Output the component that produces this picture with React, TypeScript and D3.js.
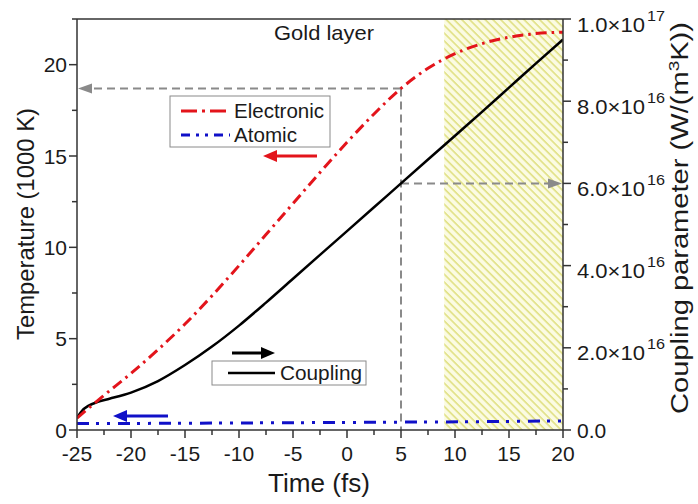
import React from "react";
import * as d3 from "d3";

// ---- data ----
const electronicTime = [-25, -22.5, -20, -17.5, -15, -12.5, -10, -7.5, -5, -2.5, 0, 2.5, 5, 7.5, 10, 12.5, 15, 17.5, 20];
const electronicTemp = [0.65, 1.9, 3.1, 4.4, 5.8, 7.35, 9.0, 10.7, 12.4, 14.1, 15.75, 17.3, 18.7, 19.8, 20.6, 21.15, 21.5, 21.7, 21.78];

const atomicTime = [-25, -15, -5, 5, 15, 20];
const atomicTemp = [0.35, 0.37, 0.4, 0.43, 0.47, 0.5];

const couplingTime = [-25, -24.5, -24, -23, -22, -20, -17.5, -15, -12.5, -10, -7.5, -5, -2.5, 0, 2.5, 5, 7.5, 10, 12.5, 15, 17.5, 20];
// in units of 1e16 W/(m^3 K)
const couplingValue = [0.3, 0.48, 0.58, 0.69, 0.76, 0.91, 1.19, 1.58, 2.03, 2.54, 3.1, 3.68, 4.26, 4.84, 5.42, 6.0, 6.58, 7.16, 7.74, 8.33, 8.92, 9.5];
const COUPLING_UNIT = 1e16;

const xTicks = [-25, -20, -15, -10, -5, 0, 5, 10, 15, 20];
const yLeftTicks = [0, 5, 10, 15, 20];
const yRightTicks = [0, 2e16, 4e16, 6e16, 8e16, 1e17];
const yRightMantissa = ["0.0", "2.0×10", "4.0×10", "6.0×10", "8.0×10", "1.0×10"];
const yRightExponent = ["", "16", "16", "16", "16", "17"];
const hatchStart = 9;
const markerTime = 5;
const markerTemp = 18.7;
const markerCoupling = 6e16;

const W = 698, H = 504;
const L = 77, R = 563, T = 19, B = 430;
const FONT = "'Liberation Sans', Arial, Helvetica, sans-serif";
const TXT = "#1a1a1a";

export default function App() {
  const x = d3.scaleLinear().domain([-25, 20]).range([L, R]);
  const yL = d3.scaleLinear().domain([0, 22.5]).range([B, T]);
  const yR = d3.scaleLinear().domain([0, 1e17]).range([B, T]);

  const lineL = d3.line<[number, number]>().x(d => x(d[0])).y(d => yL(d[1])).curve(d3.curveMonotoneX);
  const lineR = d3.line<[number, number]>().x(d => x(d[0])).y(d => yR(d[1])).curve(d3.curveMonotoneX);

  const elec = lineL(electronicTime.map((t, i) => [t, electronicTemp[i]]))!;
  const atom = lineL(atomicTime.map((t, i) => [t, atomicTemp[i]]))!;
  const coup = lineR(couplingTime.map((t, i) => [t, couplingValue[i] * COUPLING_UNIT]))!;

  const xMinor = d3.range(-22.5, 20, 5);
  const yLMinor = d3.range(2.5, 23, 5);
  const yRMinor = d3.range(1e16, 1e17, 2e16);
  const axisColor = "#333";

  const arrow = (x1: number, x2: number, y: number, color: string, key: string) => {
    const dir = x2 > x1 ? 1 : -1;
    const headLen = 14, headW = 6;
    return (
      <g key={key}>
        <line x1={x1} y1={y} x2={x2 - dir * headLen + dir * 2} y2={y} stroke={color} strokeWidth={3} />
        <path d={`M${x2},${y} L${x2 - dir * headLen},${y - headW} L${x2 - dir * headLen},${y + headW} Z`} fill={color} />
      </g>
    );
  };

  return (
    <svg width={W} height={H} style={{ position: "absolute", left: 0, top: 0, background: "#fff" }} fontFamily={FONT}>
      <defs>
        <pattern id="hatch" patternUnits="userSpaceOnUse" width="5.5" height="5.5" patternTransform="rotate(45)">
          <rect width="5.5" height="5.5" fill="#fbfbe2" />
          <line x1="0" y1="0.8" x2="5.5" y2="0.8" stroke="#dcdc74" strokeWidth="1.4" />
        </pattern>
        <clipPath id="plot">
          <rect x={L} y={T} width={R - L} height={B - T} />
        </clipPath>
      </defs>

      {/* hatched region */}
      <rect x={x(hatchStart)} y={T} width={x(20) - x(hatchStart)} height={B - T} fill="url(#hatch)" />

      {/* grey dashed guide lines */}
      <g stroke="#8a8a8a" strokeWidth={2} strokeDasharray="8,5" fill="none">
        <line x1={x(markerTime)} y1={yL(markerTemp)} x2={L + 14} y2={yL(markerTemp)} />
        <line x1={x(markerTime)} y1={yL(markerTemp)} x2={x(markerTime)} y2={B} />
        <line x1={x(markerTime)} y1={yR(markerCoupling)} x2={R - 14} y2={yR(markerCoupling)} />
      </g>
      <path d={`M${L + 1},${yL(markerTemp)} l14,-5 l0,10 Z`} fill="#8a8a8a" />
      <path d={`M${R - 1},${yR(markerCoupling)} l-14,-5 l0,10 Z`} fill="#8a8a8a" />

      {/* curves */}
      <g clipPath="url(#plot)" fill="none">
        <path d={coup} stroke="#000" strokeWidth={2.5} />
        <path d={elec} stroke="#e3141b" strokeWidth={3} strokeDasharray="11,5,2.5,5" />
        <path d={atom} stroke="#1010c8" strokeWidth={3} strokeDasharray="12,7,3,8,3,8" />
      </g>

      {/* axes frame */}
      <g stroke={axisColor} strokeWidth={1.5}>
        <line x1={L} y1={T} x2={R} y2={T} />
        <line x1={L} y1={T} x2={L} y2={B} />
        <line x1={R} y1={T} x2={R} y2={B} />
        <line x1={L} y1={B} x2={R} y2={B} />
        {xTicks.map(t => <line key={"xt" + t} x1={x(t)} x2={x(t)} y1={B} y2={B + 8} />)}
        {xMinor.map(t => <line key={"xm" + t} x1={x(t)} x2={x(t)} y1={B} y2={B + 5} />)}
        {yLeftTicks.map(t => <line key={"yt" + t} x1={L - 8} x2={L} y1={yL(t)} y2={yL(t)} />)}
        {yLMinor.map(t => <line key={"ym" + t} x1={L - 5} x2={L} y1={yL(t)} y2={yL(t)} />)}
        {yRightTicks.map(t => <line key={"rt" + t} x1={R} x2={R + 8} y1={yR(t)} y2={yR(t)} />)}
        {yRMinor.map(t => <line key={"rm" + t} x1={R} x2={R + 5} y1={yR(t)} y2={yR(t)} />)}
      </g>

      {/* tick labels */}
      <g fontSize={21} fill={TXT}>
        {xTicks.map(t => (
          <text key={"xl" + t} x={x(t)} y={B + 31} textAnchor="middle">{t}</text>
        ))}
        {yLeftTicks.map(t => (
          <text key={"yl" + t} x={L - 10} y={yL(t) + 7.5} textAnchor="end">{t}</text>
        ))}
      </g>
      <g fill={TXT}>
        {yRightTicks.map((t, i) =>
          yRightExponent[i] ? (
            <g key={"rl" + t}>
              <text x={R + 14} y={yR(t) + 12.5} fontSize={21} textLength={68} lengthAdjust="spacingAndGlyphs">{yRightMantissa[i]}</text>
              <text x={R + 14 + 70} y={yR(t) + 1.5} fontSize={15} textLength={18} lengthAdjust="spacingAndGlyphs">{yRightExponent[i]}</text>
            </g>
          ) : (
            <text key={"rl" + t} x={R + 14} y={yR(t) + 7.5} fontSize={21}>{yRightMantissa[i]}</text>
          )
        )}
      </g>

      {/* axis titles */}
      <text x={(L + R) / 2 - 1} y={492} textAnchor="middle" fontSize={25} fill={TXT} textLength={102} lengthAdjust="spacingAndGlyphs">Time (fs)</text>
      <text transform={`translate(34,${224}) rotate(-90)`} textAnchor="middle" fontSize={24} fill={TXT} textLength={232} lengthAdjust="spacingAndGlyphs">Temperature (1000 K)</text>
      <text transform={`translate(688,${218}) rotate(-90)`} textAnchor="middle" fontSize={23} fill={TXT} textLength={392} lengthAdjust="spacingAndGlyphs">
        Coupling parameter (W/(m<tspan fontSize={15} dy={-9}>3</tspan><tspan dy={9}>K))</tspan>
      </text>

      <text x={324} y={40} textAnchor="middle" fontSize={21} fill={TXT} textLength={100} lengthAdjust="spacingAndGlyphs">Gold layer</text>

      {/* legend 1 */}
      <rect x={170} y={96} width={160} height={51} fill="#fff" stroke="#8a8a8a" strokeWidth={1} />
      <line x1={181} x2={230} y1={111} y2={111} stroke="#e3141b" strokeWidth={3} strokeDasharray="16,5,3,5" />
      <line x1={181} x2={230} y1={135} y2={135} stroke="#1010c8" strokeWidth={3} strokeDasharray="9,6,3,6,3,6" />
      <text x={234} y={117.5} fontSize={20} fill={TXT} textLength={90} lengthAdjust="spacingAndGlyphs">Electronic</text>
      <text x={234} y={141.5} fontSize={20} fill={TXT} textLength={63} lengthAdjust="spacingAndGlyphs">Atomic</text>

      {/* legend 2 */}
      <rect x={212} y={361} width={154} height={24} fill="#fff" stroke="#8a8a8a" strokeWidth={1} />
      <line x1={228} x2={275} y1={373} y2={373} stroke="#000" strokeWidth={2.5} />
      <text x={280} y={380} fontSize={20} fill={TXT} textLength={82} lengthAdjust="spacingAndGlyphs">Coupling</text>

      {/* direction arrows */}
      {arrow(317, 263, 156, "#e3141b", "ra")}
      {arrow(232, 275, 353, "#000", "ba")}
      {arrow(168, 113, 416, "#1010c8", "bl")}
    </svg>
  );
}
